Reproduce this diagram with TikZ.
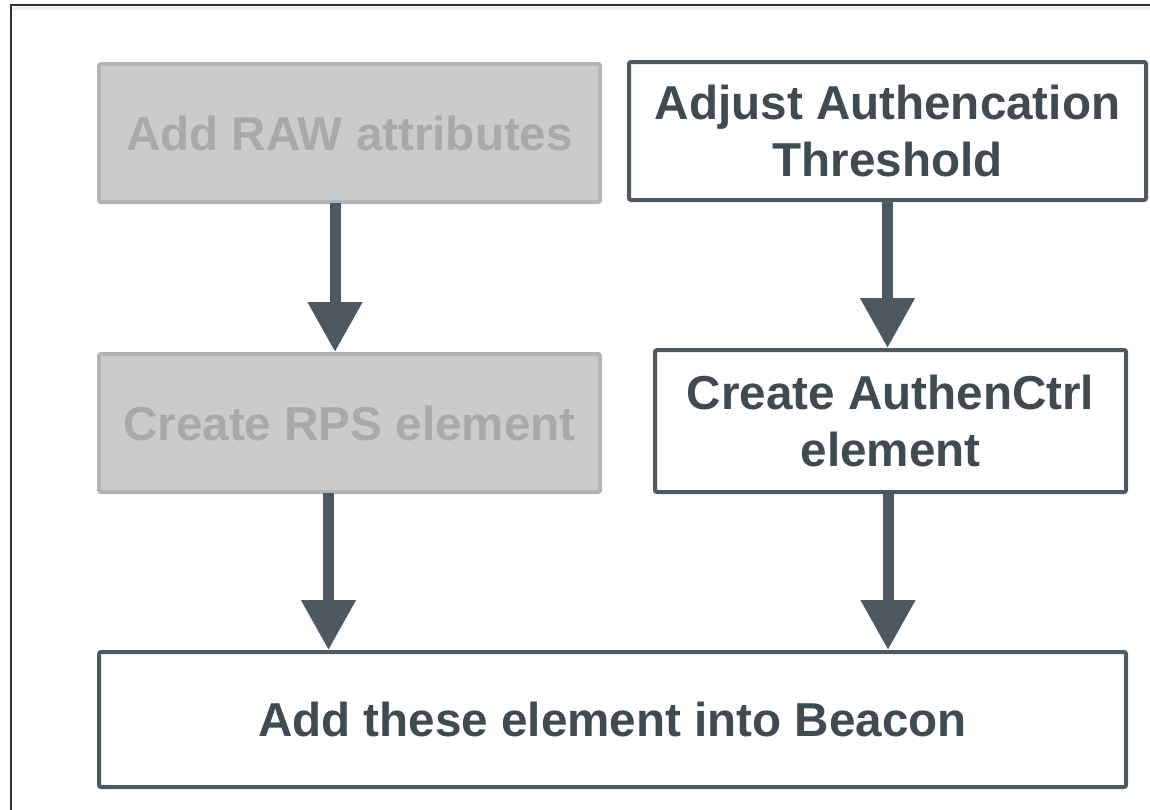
\documentclass[tikz,border=0pt]{standalone}
\usepackage{fontspec}
\setmainfont{Liberation Sans}
\usetikzlibrary{arrows.meta,calc}
\definecolor{darkc}{HTML}{4D5860}
\definecolor{textc}{HTML}{3F4A51}
\definecolor{grayfill}{HTML}{CBCBCB}
\definecolor{grayline}{HTML}{B4B4B4}
\definecolor{graytext}{HTML}{A9A9A9}
\definecolor{framec}{HTML}{2E3236}
\tikzset{
  active/.style={draw=darkc, fill=white, line width=3pt, rounded corners=1.5pt,
    text=textc, font=\fontsize{35.7}{43}\selectfont\bfseries, align=center, inner sep=0pt},
  inactive/.style={draw=grayline, fill=grayfill, line width=3pt, rounded corners=1.5pt,
    text=graytext, font=\fontsize{35.7}{43}\selectfont\bfseries, align=center, inner sep=0pt},
  bigarrow/.style={draw=darkc, line width=8.25pt,
    -{Triangle[width=39pt,length=37.5pt]}, shorten <=-1pt}
}
\begin{document}
\begin{tikzpicture}[x=0.75pt,y=-0.75pt]
\useasboundingbox (0,0) rectangle (1150,810);
% outer frame (cut off at right and bottom)
\fill[black!8] (13,7) rectangle (1160,10);
\draw[framec, line width=1.5pt] (11,830) -- (11,5) -- (1170,5);
% boxes
\node[inactive, minimum width=375.75pt, minimum height=103.5pt] (b1) at (349.5,133) {Add RAW attributes};
\node[active, minimum width=387.75pt, minimum height=103.5pt] (b2) at (887.5,131) {Adjust Authencation\\Threshold};
\node[inactive, minimum width=375.75pt, minimum height=103.5pt] (b3) at (349.5,423) {Create RPS element};
\node[active, minimum width=353.25pt, minimum height=106.5pt] (b4) at (890.5,421) {Create AuthenCtrl\\element};
\node[active, minimum width=770.25pt, minimum height=101.25pt] (b5) at (612.5,719.5) {Add these element into Beacon};
% arrow anchor coordinates
\coordinate (s1) at ($(b1.south)+(-14.5,0)$);
\coordinate (e1) at ($(b3.north)+(-14.5,0)$);
\coordinate (s2) at (b2.south);
\coordinate (e2) at ($(b4.north)+(-3,0)$);
\coordinate (s3) at ($(b3.south)+(-21,0)$);
\coordinate (e3) at (s3 |- b5.north);
\coordinate (s4) at ($(b4.south)+(-2.5,0)$);
\coordinate (e4) at (s4 |- b5.north);
% arrows
\draw[bigarrow] (s1) -- (e1);
\draw[bigarrow] (s2) -- (e2);
\draw[bigarrow] (s3) -- (e3);
\draw[bigarrow] (s4) -- (e4);
\end{tikzpicture}
\end{document}
